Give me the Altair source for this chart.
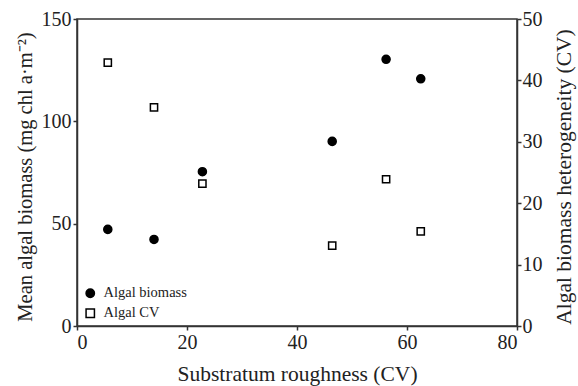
import altair as alt
import pandas as pd

# Data
roughness = [5.6, 14.0, 22.8, 46.4, 56.2, 62.5]
biomass = [47.2, 42.3, 75.4, 90.2, 130.3, 120.8]
cv = [42.9, 35.6, 23.2, 13.1, 23.9, 15.4]
series_names = ["Algal biomass", "Algal CV"]
x_ticks = [0, 20, 40, 60, 80]
left_ticks = [0, 50, 100, 150]
right_ticks = [0, 10, 20, 30, 40, 50]

df_b = pd.DataFrame({"x": roughness, "y": biomass, "series": series_names[0]})
df_c = pd.DataFrame({"x": roughness, "y": cv, "series": series_names[1]})

FONT = "Liberation Serif, Times New Roman, serif"
INK = "#222222"

x_enc = alt.X(
    "x:Q",
    scale=alt.Scale(domain=[0, 80], nice=False),
    axis=alt.Axis(values=x_ticks, title="Substratum roughness (CV)", titlePadding=11),
)

legend = alt.Legend(
    title=None, orient="none", legendX=6, legendY=267, padding=0,
    labelFont=FONT, labelFontSize=14.5, labelColor=INK, symbolSize=70,
    symbolStrokeWidth=1.5, rowPadding=4, labelOffset=6,
)
shape_enc = alt.Shape("series:N", scale=alt.Scale(domain=series_names, range=["circle", "square"]), legend=legend)
fill_enc = alt.Fill("series:N", scale=alt.Scale(domain=series_names, range=["black", "white"]), legend=legend)
stroke_enc = alt.Stroke("series:N", scale=alt.Scale(domain=series_names, range=["black", "black"]), legend=legend)

biomass_layer = alt.Chart(df_b).mark_point(
    filled=True, strokeWidth=1.5, opacity=1, size=65
).encode(
    x=x_enc,
    y=alt.Y(
        "y:Q",
        scale=alt.Scale(domain=[0, 150], nice=False),
        axis=alt.Axis(values=left_ticks, orient="left",
                      title="Mean algal biomass (mg chl a·m⁻²)", titlePadding=6,
                      titleY=157.5, titleFontSize=20.5),
    ),
    shape=shape_enc,
    fill=fill_enc,
    stroke=stroke_enc,
)

cv_layer = alt.Chart(df_c).mark_point(
    filled=True, strokeWidth=1.5, opacity=1, size=52
).encode(
    x=x_enc,
    y=alt.Y(
        "y:Q",
        scale=alt.Scale(domain=[0, 50], nice=False),
        axis=alt.Axis(values=right_ticks, orient="right",
                      title="Algal biomass heterogeneity (CV)", titleAngle=-90,
                      titlePadding=33, labelPadding=1, titleY=157.5),
    ),
    shape=shape_enc,
    fill=fill_enc,
    stroke=stroke_enc,
)

chart = alt.layer(biomass_layer, cv_layer).resolve_scale(y="independent").properties(
    width=440,
    height=307,
    autosize=alt.AutoSizeParams(type="none"),
    padding={"left": 77, "top": 19, "right": 61, "bottom": 60},
    background="white",
).configure_view(
    stroke="#333333", strokeWidth=1.5
).configure_axis(
    labelFont=FONT, titleFont=FONT, labelFontSize=20, titleFontSize=21.5,
    labelColor=INK, titleColor=INK, titleFontWeight="normal",
    domainColor="#333333", tickColor="#333333", domainWidth=1.5, tickWidth=1.5,
    tickSize=4, grid=False, labelPadding=2,
)

chart.save("out.html", embed_options={"renderer": "svg", "actions": False})
